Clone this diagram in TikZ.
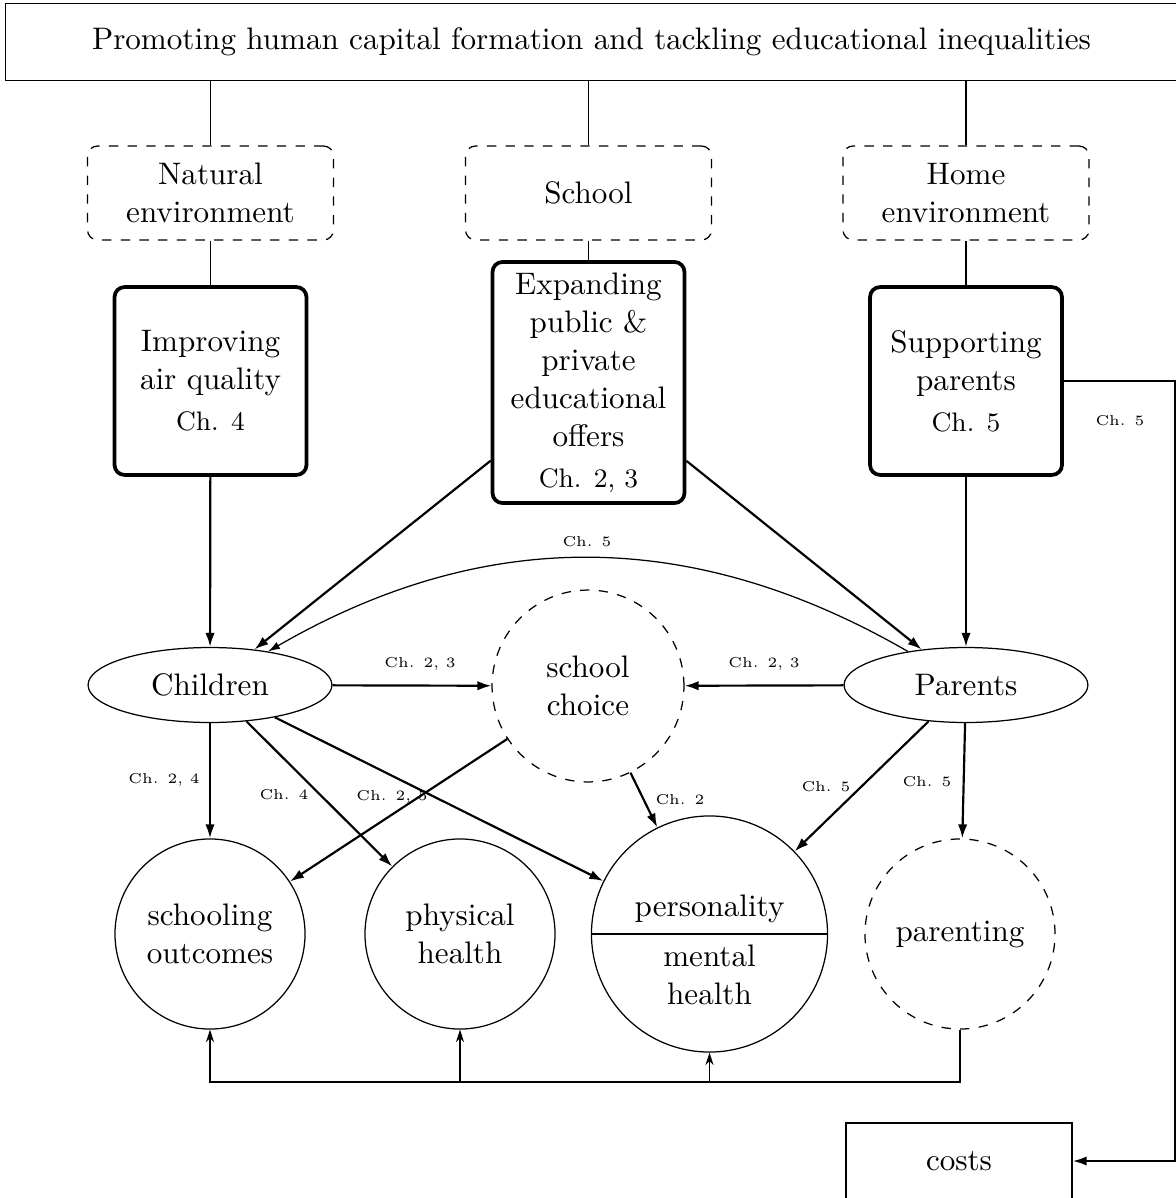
\documentclass[tikz,border=0pt]{standalone}
\usetikzlibrary{arrows.meta,shapes.geometric,shapes.multipart}
\begin{document}
\begin{tikzpicture}[x=0.3215pt,y=-0.3215pt,
  every node/.style={font=\fontsize{10}{12.2}\selectfont},
  lbl/.style={font=\fontsize{4.6}{5.5}\selectfont, inner sep=0pt},
  topbox/.style={minimum width=383.9pt, minimum height=24.4pt, inner sep=0pt},
  dbox/.style={draw, dashed, rounded corners=3.2pt, minimum width=79.1pt, minimum height=30.2pt, align=center, inner sep=0pt},
  tbox/.style={draw, line width=1.2pt, rounded corners=3.2pt, minimum width=61.7pt, minimum height=60.4pt, align=center, inner sep=1pt},
  ell/.style={draw, ellipse, minimum width=78.4pt, minimum height=24.1pt, inner sep=0pt},
  circ/.style={draw, circle, minimum size=61.1pt, inner sep=0pt, align=center},
  dcirc/.style={circ, dashed},
  arr/.style={line width=0.7pt, -{Latex[length=4.5pt,width=3pt]}},
  tarr/.style={line width=0.4pt, -{Latex[length=3.8pt,width=2.5pt]}},
  barr/.style={line width=0.6pt, -{Stealth[length=4pt,width=2.6pt]}},
  conn/.style={line width=0.4pt}
]
\useasboundingbox (0,0) rectangle (1176,1198);

% top
\node[topbox] (top) at (603,42) {\hspace*{-7.4pt}Promoting human capital formation and tackling educational inequalities};
\draw[conn] (top.north east) -- (top.north west) -- (top.south west) -- (top.south east);

% environments
\node[dbox] (nat) at (210.5,193) {Natural\\environment};
\node[dbox] (sch) at (588.5,193) {School};
\node[dbox] (home) at (966,193) {Home\\environment};

% interventions
\node[tbox] (air) at (210.5,381) {Improving\\air quality\\[1pt]{\fontsize{8.6}{10}\selectfont Ch. 4}};
\node[tbox, minimum height=77.5pt] (exp) at (588.5,382.5) {Expanding\\public \&\\private\\educational\\offers\\[1pt]{\fontsize{8.6}{10}\selectfont Ch. 2, 3}};
\node[tbox] (sup) at (966,381) {Supporting\\parents\\[1pt]{\fontsize{8.6}{10}\selectfont Ch. 5}};

% actors
\node[ell] (children) at (210,685) {Children};
\node[dcirc, minimum size=61.7pt] (choice) at (588,686) {school\\choice};
\node[ell] (parents) at (966,685) {Parents};

% outcomes
\node[circ] (schooling) at (210,934) {schooling\\outcomes};
\node[circ] (physical) at (460,934) {physical\\health};
\node[draw, circle split, minimum size=75.9pt, align=center] (pers) at (709.5,934) {personality\nodepart{lower}mental\\health};
\node[dcirc] (parenting) at (960,934) {parenting};

% costs
\node[draw, minimum width=72.7pt, minimum height=24.4pt, inner sep=0pt] (costs) at (959,1161) {costs};

\coordinate (rc) at (1175,381);
\coordinate (bot) at (960,1082);

% top connectors
\draw[conn] (nat.north) -- (nat.north |- top.south);
\draw[conn] (sch.north) -- (sch.north |- top.south);
\draw[conn] (home.north) -- (home.north |- top.south);
\draw[conn] (nat.south) -- (air.north);
\draw[conn] (sch.south) -- (exp.north);
\draw[conn] (home.south) -- (sup.north);

% intervention arrows
\draw[arr] (air) -- (children);
\draw[arr] (exp) -- (children);
\draw[arr] (exp) -- (parents);
\draw[arr] (sup) -- (parents);
\draw[tarr] (parents) to[bend right=30] (children);
\draw[arr] (sup.east) -- (rc) |- (costs.east);

% middle
\draw[arr] (children) -- (choice);
\draw[arr] (parents) -- (choice);
\draw[arr] (children) -- (schooling);
\draw[arr] (children) -- (physical);
\draw[arr] (children) -- (pers);
\draw[arr] (choice) -- (schooling);
\draw[arr] (choice) -- (pers);
\draw[arr] (parents) -- (pers);
\draw[arr] (parents) -- (parenting);

% bottom
\draw[barr] (parenting.south) -- (bot) -| (schooling.south);
\draw[barr] (parenting.south) -- (bot) -| (physical.south);
\draw[barr] (parenting.south) -- (bot) -| (pers.south);

% labels
\node[lbl] (l1) at (587,542) {Ch. 5};
\node[lbl] (l2) at (420,664) {Ch. 2, 3};
\node[lbl] (l3) at (764,664) {Ch. 2, 3};
\node[lbl] (l4) at (164,780) {Ch. 2, 4};
\node[lbl] (l5) at (284,795) {Ch. 4};
\node[lbl] (l6) at (392,797) {Ch. 2, 5};
\node[lbl] (l7) at (680,800) {Ch. 2};
\node[lbl] (l8) at (826,787) {Ch. 5};
\node[lbl] (l9) at (927,782) {Ch. 5};
\node[lbl] (l10) at (1120,421) {Ch. 5};
\end{tikzpicture}
\end{document}
